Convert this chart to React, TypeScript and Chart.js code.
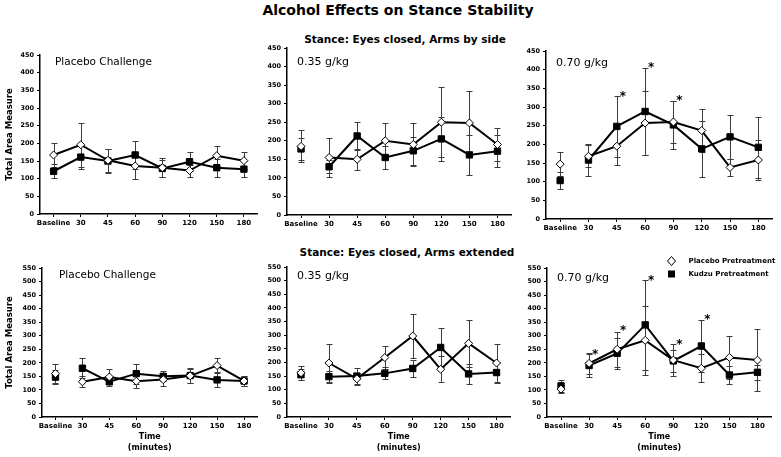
import React, { useEffect, useRef } from "react";
import { Chart, registerables } from "chart.js";

Chart.register(...registerables);

// ---------- DATA ----------
const categories = ["Baseline", "30", "45", "60", "90", "120", "150", "180"];
const seriesNames = ["Placebo Pretreatment", "Kudzu Pretreatment"];
const mainTitle = "Alcohol Effects on Stance Stability";
const rowTitleSide = "Stance: Eyes closed, Arms by side";
const rowTitleExtended = "Stance: Eyes closed, Arms extended";
const yAxisTitle = "Total Area Measure";
const xAxisTitle = ["Time", "(minutes)"];
const yMaxSide = 450;
const yMaxExtended = 550;
const yStep = 50;

// Arms by side – Placebo challenge
const sidePlc_placebo = [167, 196, 152, 136, 131, 123, 165, 151];
const sidePlc_placeboErr = [33, 62, 33, 38, 27, 17, 28, 24];
const sidePlc_kudzu = [121, 161, 150, 167, 129, 148, 131, 127];
const sidePlc_kudzuErr = [20, 35, 35, 41, 25, 27, 25, 23];

// Arms by side – 0.35 g/kg
const side035_placebo = [185, 155, 150, 200, 190, 250, 248, 190];
const side035_placeboErr = [43, 52, 28, 48, 57, 95, 85, 45];
const side035_kudzu = [178, 130, 213, 155, 173, 205, 162, 172];
const side035_kudzuErr = [29, 17, 37, 30, 37, 60, 53, 44];

// Arms by side – 0.70 g/kg
const side070_placebo = [147, 168, 195, 257, 260, 237, 138, 158];
const side070_placeboErr = [32, 30, 50, 85, 57, 58, 22, 53];
const side070_kudzu = [103, 158, 248, 288, 252, 188, 220, 192];
const side070_kudzuErr = [23, 43, 82, 117, 65, 75, 58, 82];
const side070_stars = [null, null, 336, 415, 325, null, null, null];

// Arms extended – Placebo challenge
const extPlc_placebo = [160, 130, 148, 132, 138, 152, 190, 133];
const extPlc_placeboErr = [35, 20, 28, 25, 23, 27, 28, 20];
const extPlc_kudzu = [147, 180, 130, 160, 150, 153, 137, 133];
const extPlc_kudzuErr = [25, 37, 15, 37, 18, 27, 28, 18];

// Arms extended – 0.35 g/kg
const ext035_placebo = [162, 198, 140, 218, 297, 175, 270, 198];
const ext035_placeboErr = [25, 70, 22, 43, 80, 48, 87, 68];
const ext035_kudzu = [155, 148, 150, 160, 178, 255, 158, 163];
const ext035_kudzuErr = [20, 22, 30, 22, 32, 72, 37, 37];

// Arms extended – 0.70 g/kg
const ext070_placebo = [103, 198, 250, 283, 210, 180, 220, 210];
const ext070_placeboErr = [14, 38, 65, 128, 58, 52, 80, 115];
const ext070_kudzu = [115, 190, 235, 340, 207, 262, 155, 165];
const ext070_kudzuErr = [22, 42, 57, 165, 42, 97, 33, 27];
const ext070_stars = [null, 242, 331, 515, 277, 371, null, null];

// ---------- LAYOUT ----------
const FONT = "'DejaVu Sans', Verdana, sans-serif";
const Y_AXIS_W = 40;
const PAD_RIGHT = 5;
const PAD_TOP = 14;

type Panel = {
  key: string;
  L: number; R: number; T: number; B: number;
  yMax: number;
  label: string; labelDx: number; labelDy: number; labelSize: number;
  placebo: number[]; placeboErr: number[];
  kudzu: number[]; kudzuErr: number[];
  stars: (number | null)[] | null;
  connectBaseline: boolean;
  yTitle: boolean; yTitlePad: number;
  xTitle: boolean;
  legend: boolean;
  xAxisH: number;
};

const panels: Panel[] = [
  { key: "p1", L: 40, R: 258, T: 55, B: 214, yMax: yMaxSide, label: "Placebo Challenge", labelDx: 15, labelDy: 7, labelSize: 10.5,
    placebo: sidePlc_placebo, placeboErr: sidePlc_placeboErr, kudzu: sidePlc_kudzu, kudzuErr: sidePlc_kudzuErr,
    stars: null, connectBaseline: true, yTitle: true, yTitlePad: 5, xTitle: false, legend: false, xAxisH: 18 },
  { key: "p2", L: 287, R: 512, T: 48, B: 215, yMax: yMaxSide, label: "0.35 g/kg", labelDx: 10, labelDy: 14, labelSize: 11,
    placebo: side035_placebo, placeboErr: side035_placeboErr, kudzu: side035_kudzu, kudzuErr: side035_kudzuErr,
    stars: null, connectBaseline: false, yTitle: false, yTitlePad: 0, xTitle: false, legend: false, xAxisH: 18 },
  { key: "p3", L: 546, R: 773, T: 51, B: 219, yMax: yMaxSide, label: "0.70 g/kg", labelDx: 10, labelDy: 12, labelSize: 11,
    placebo: side070_placebo, placeboErr: side070_placeboErr, kudzu: side070_kudzu, kudzuErr: side070_kudzuErr,
    stars: side070_stars, connectBaseline: false, yTitle: false, yTitlePad: 0, xTitle: false, legend: false, xAxisH: 18 },
  { key: "p4", L: 42, R: 258, T: 268, B: 417, yMax: yMaxExtended, label: "Placebo Challenge", labelDx: 17, labelDy: 7, labelSize: 10.5,
    placebo: extPlc_placebo, placeboErr: extPlc_placeboErr, kudzu: extPlc_kudzu, kudzuErr: extPlc_kudzuErr,
    stars: null, connectBaseline: false, yTitle: true, yTitlePad: 3, xTitle: true, legend: false, xAxisH: 40 },
  { key: "p5", L: 287, R: 511, T: 267, B: 417, yMax: yMaxExtended, label: "0.35 g/kg", labelDx: 10, labelDy: 9, labelSize: 11,
    placebo: ext035_placebo, placeboErr: ext035_placeboErr, kudzu: ext035_kudzu, kudzuErr: ext035_kudzuErr,
    stars: null, connectBaseline: false, yTitle: false, yTitlePad: 0, xTitle: true, legend: false, xAxisH: 40 },
  { key: "p6", L: 547, R: 772, T: 268, B: 417, yMax: yMaxExtended, label: "0.70 g/kg", labelDx: 10, labelDy: 10, labelSize: 11,
    placebo: ext070_placebo, placeboErr: ext070_placeboErr, kudzu: ext070_kudzu, kudzuErr: ext070_kudzuErr,
    stars: ext070_stars, connectBaseline: false, yTitle: false, yTitlePad: 0, xTitle: true, legend: true, xAxisH: 40 },
];

function canvasBox(p: Panel) {
  return {
    left: p.L - Y_AXIS_W,
    top: p.T - PAD_TOP,
    width: p.R - p.L + Y_AXIS_W + PAD_RIGHT,
    height: PAD_TOP + (p.B - p.T) + p.xAxisH,
  };
}

function makePlugin(p: Panel) {
  return {
    id: "panelExtras_" + p.key,
    beforeDatasetsDraw(chart: any) {
      const ctx = chart.ctx;
      const yS = chart.scales.y;
      ctx.save();
      ctx.strokeStyle = "#3c3c3c";
      ctx.lineWidth = 1;
      const sets: [number[], number[], number][] = [
        [p.placebo, p.placeboErr, 0],
        [p.kudzu, p.kudzuErr, 1],
      ];
      sets.forEach(([vals, errs, di]) => {
        const meta = chart.getDatasetMeta(di);
        vals.forEach((v, i) => {
          const x = Math.round(meta.data[i].x) + 0.5;
          const yHi = Math.round(yS.getPixelForValue(v + errs[i])) + 0.5;
          const yLo = Math.round(yS.getPixelForValue(v - errs[i])) + 0.5;
          ctx.beginPath();
          ctx.moveTo(x, yHi);
          ctx.lineTo(x, yLo);
          ctx.moveTo(x - 3, yHi);
          ctx.lineTo(x + 3, yHi);
          ctx.moveTo(x - 3, yLo);
          ctx.lineTo(x + 3, yLo);
          ctx.stroke();
        });
      });
      ctx.restore();
    },
    afterDatasetsDraw(chart: any) {
      const ctx = chart.ctx;
      const area = chart.chartArea;
      const xS = chart.scales.x;
      const yS = chart.scales.y;
      ctx.save();
      // panel label
      ctx.fillStyle = "#000";
      ctx.font = `${p.labelSize}px ${FONT}`;
      ctx.textAlign = "left";
      ctx.textBaseline = "middle";
      ctx.fillText(p.label, area.left + p.labelDx, area.top + p.labelDy);
      // significance stars
      if (p.stars) {
        ctx.font = `bold 12px ${FONT}`;
        ctx.textAlign = "center";
        ctx.textBaseline = "alphabetic";
        p.stars.forEach((s, i) => {
          if (s === null) return;
          const x = xS.getPixelForValue(i);
          const y = yS.getPixelForValue(s);
          ctx.fillText("*", x + 6, y + 6.5);
        });
      }
      // legend
      if (p.legend) {
        const mx = area.right - 100;
        const tx = area.right - 83;
        const y1 = area.top - 7;
        const y2 = area.top + 6;
        ctx.lineWidth = 1;
        ctx.strokeStyle = "#000";
        ctx.fillStyle = "#fff";
        ctx.beginPath();
        ctx.moveTo(mx, y1 - 4.5);
        ctx.lineTo(mx + 4, y1);
        ctx.lineTo(mx, y1 + 4.5);
        ctx.lineTo(mx - 4, y1);
        ctx.closePath();
        ctx.fill();
        ctx.stroke();
        ctx.fillStyle = "#000";
        ctx.fillRect(mx - 3.5, y2 - 3.5, 7, 7);
        ctx.font = `bold 7px ${FONT}`;
        ctx.textAlign = "left";
        ctx.textBaseline = "middle";
        ctx.fillText(seriesNames[0], tx, y1);
        ctx.fillText(seriesNames[1], tx, y2);
      }
      ctx.restore();
    },
  };
}

function PanelChart({ p }: { p: Panel }) {
  const ref = useRef<HTMLCanvasElement | null>(null);
  useEffect(() => {
    if (!ref.current) return;
    const hideFirst = (c: any) =>
      !p.connectBaseline && c.p0DataIndex === 0 ? "rgba(0,0,0,0)" : "#000";
    const chart = new Chart(ref.current, {
      type: "line",
      data: {
        labels: categories,
        datasets: [
          {
            label: seriesNames[0],
            data: p.placebo,
            borderColor: "#000",
            borderWidth: 2,
            pointStyle: "rectRot",
            pointRadius: 4,
            pointBackgroundColor: "#fff",
            pointBorderColor: "#000",
            pointBorderWidth: 1,
            tension: 0,
            segment: { borderColor: hideFirst },
          },
          {
            label: seriesNames[1],
            data: p.kudzu,
            borderColor: "#000",
            borderWidth: 2,
            pointStyle: "rect",
            pointRadius: 4.5,
            pointBackgroundColor: "#000",
            pointBorderColor: "#000",
            pointBorderWidth: 1,
            tension: 0,
            segment: { borderColor: hideFirst },
          },
        ],
      },
      options: {
        responsive: false,
        animation: false,
        events: [],
        layout: { padding: { left: 0, right: PAD_RIGHT, top: PAD_TOP, bottom: 0 } },
        plugins: { legend: { display: false }, tooltip: { enabled: false }, title: { display: false } },
        scales: {
          x: {
            type: "category",
            offset: true,
            grid: { display: true, drawOnChartArea: false, drawTicks: true, tickLength: 3, color: "#000", lineWidth: 1 },
            border: { display: true, color: "#000", width: 1.5 },
            ticks: {
              font: { family: FONT, size: 7, weight: "bold" },
              color: "#000",
              padding: 2,
              autoSkip: false,
              maxRotation: 0,
            },
            title: p.xTitle
              ? {
                  display: true,
                  text: xAxisTitle,
                  color: "#000",
                  font: { family: FONT, size: 8, weight: "bold", lineHeight: "11px" },
                  padding: { top: 0, bottom: 4 },
                }
              : { display: false },
            afterFit: (s: any) => {
              s.height = p.xAxisH;
            },
          },
          y: {
            min: 0,
            max: p.yMax,
            grid: { display: true, drawOnChartArea: false, drawTicks: true, tickLength: 3, color: "#000", lineWidth: 1 },
            border: { display: true, color: "#000", width: 1.5 },
            ticks: {
              stepSize: yStep,
              font: { family: FONT, size: 6.5, weight: "bold" },
              color: "#000",
              padding: 3,
            },
            title: p.yTitle
              ? {
                  display: true,
                  text: yAxisTitle,
                  color: "#000",
                  font: { family: FONT, size: 8.5, weight: "bold" },
                  padding: { top: p.yTitlePad, bottom: 0 },
                }
              : { display: false },
            afterFit: (s: any) => {
              s.width = Y_AXIS_W;
            },
          },
        },
      },
      plugins: [makePlugin(p)],
    } as any);
    return () => chart.destroy();
  }, [p]);
  const b = canvasBox(p);
  return (
    <canvas
      ref={ref}
      width={b.width}
      height={b.height}
      style={{ position: "absolute", left: b.left, top: b.top, width: b.width, height: b.height }}
    />
  );
}

function TitleText({ text, cx, cy, size }: { text: string; cx: number; cy: number; size: number }) {
  const lh = Math.round(size * 1.2);
  return (
    <div
      style={{
        position: "absolute",
        left: cx - 250,
        width: 500,
        top: cy - lh / 2,
        height: lh,
        lineHeight: `${lh}px`,
        textAlign: "center",
        fontFamily: FONT,
        fontWeight: "bold",
        fontSize: size,
        color: "#000",
        whiteSpace: "nowrap",
      }}
    >
      {text}
    </div>
  );
}

export default function App() {
  return (
    <div
      style={{
        position: "absolute",
        left: 0,
        top: 0,
        width: 781,
        height: 457,
        background: "#fff",
        overflow: "hidden",
      }}
    >
      <TitleText text={mainTitle} cx={398} cy={10} size={14} />
      <TitleText text={rowTitleSide} cx={405} cy={39} size={10.5} />
      <TitleText text={rowTitleExtended} cx={407} cy={252} size={10.5} />
      {panels.map((p) => (
        <PanelChart key={p.key} p={p} />
      ))}
    </div>
  );
}
